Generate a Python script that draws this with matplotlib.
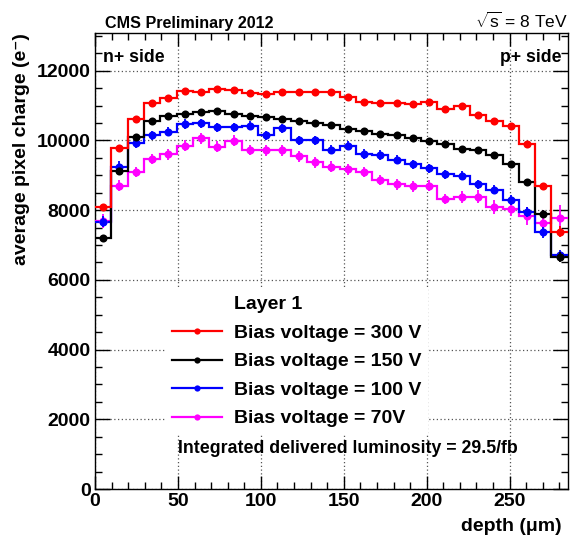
import numpy as np
import matplotlib
matplotlib.use("Agg")
import matplotlib.pyplot as plt
from matplotlib.lines import Line2D
from matplotlib.ticker import MultipleLocator

plt.rcParams["font.family"] = ["Liberation Sans", "DejaVu Sans"]
plt.rcParams["mathtext.fontset"] = "custom"
plt.rcParams["mathtext.rm"] = "Liberation Sans"
plt.rcParams["mathtext.it"] = "Liberation Sans:italic"
plt.rcParams["mathtext.bf"] = "Liberation Sans:bold"

# Depth binning (um)
depth_min, depth_max = 0.0, 285.0
n_bins = 29

# Average pixel charge (electrons) per depth bin
charge_300V = [8100, 9770, 10610, 11070, 11210, 11420, 11400, 11480, 11450, 11370,
               11320, 11400, 11400, 11400, 11400, 11230, 11110, 11085, 11065, 11040,
               11100, 10900, 11000, 10730, 10560, 10400, 9890, 8680, 7380]
err_300V = [80, 80, 80, 80, 80, 80, 80, 80, 80, 80,
            80, 80, 80, 80, 80, 80, 80, 80, 80, 80,
            80, 80, 80, 80, 80, 80, 90, 100, 150]

charge_150V = [7200, 9120, 10090, 10560, 10700, 10760, 10800, 10830, 10760, 10710,
               10660, 10610, 10560, 10510, 10445, 10330, 10270, 10190, 10160, 10060,
               9990, 9900, 9760, 9730, 9580, 9330, 8820, 7900, 6660]
err_150V = [70, 70, 70, 70, 70, 70, 70, 70, 70, 70,
            70, 70, 70, 70, 70, 70, 70, 70, 70, 70,
            70, 70, 70, 70, 70, 70, 80, 100, 150]

charge_100V = [7670, 9250, 9920, 10140, 10250, 10470, 10490, 10370, 10370, 10420,
               10140, 10350, 10000, 10000, 9730, 9850, 9610, 9580, 9440, 9320,
               9200, 9030, 8990, 8740, 8580, 8290, 7950, 7360, 6710]
err_100V = [150, 150, 130, 130, 130, 130, 130, 130, 130, 130,
            130, 130, 130, 130, 130, 130, 130, 130, 130, 130,
            130, 130, 130, 130, 130, 130, 150, 150, 150]

charge_70V = [7700, 8700, 9090, 9470, 9600, 9850, 10060, 9820, 9990, 9730,
              9710, 9710, 9540, 9370, 9250, 9170, 9090, 8870, 8740, 8680,
              8700, 8320, 8370, 8390, 8100, 8030, 7830, 7640, 7770]
err_70V = [200, 150, 150, 150, 150, 150, 150, 150, 150, 150,
           150, 150, 150, 150, 150, 150, 150, 150, 150, 150,
           150, 150, 180, 200, 200, 200, 250, 350, 380]

series_labels = ["Bias voltage = 300 V", "Bias voltage = 150 V",
                 "Bias voltage = 100 V", "Bias voltage = 70V"]
series_colors = ["#ff0000", "#000000", "#0000ff", "#ff00ff"]
series_values = [charge_300V, charge_150V, charge_100V, charge_70V]
series_errors = [err_300V, err_150V, err_100V, err_70V]

W, H = 570, 535


def fx(px):
    return px / W


def fy(py):
    return 1 - py / H


fig = plt.figure(figsize=(W / 100, H / 100), dpi=100)
ax = fig.add_axes([fx(95), fy(489), (567.7 - 95) / W, (489 - 33) / H])

edges = np.linspace(depth_min, depth_max, n_bins + 1)
centers = 0.5 * (edges[:-1] + edges[1:])

handles = []
draw_order = [3, 2, 1, 0]
for i in draw_order:
    vals = np.asarray(series_values[i], dtype=float)
    errs = np.asarray(series_errors[i], dtype=float)
    col = series_colors[i]
    ax.stairs(vals, edges, baseline=None, color=col, lw=1.6, zorder=3 + (3 - i) * 0.1)
    ax.errorbar(centers, vals, yerr=errs, fmt="o", color=col, ms=5.8, mew=0,
                elinewidth=1.3, capsize=0, zorder=4 + (3 - i) * 0.1)

for i in range(4):
    handles.append(Line2D([], [], color=series_colors[i], lw=1.6, marker="o",
                          ms=4.5, mew=0))

ax.set_xlim(depth_min, depth_max)
ax.set_ylim(0, 13080)

ax.xaxis.set_major_locator(MultipleLocator(50))
ax.xaxis.set_minor_locator(MultipleLocator(10))
ax.yaxis.set_major_locator(MultipleLocator(2000))
ax.yaxis.set_minor_locator(MultipleLocator(500))

ax.tick_params(which="both", direction="in", top=True, right=True,
               labelsize=14, width=1, pad=3)
ax.tick_params(axis="x", which="major", length=9.5)
ax.tick_params(axis="x", which="minor", length=5)
ax.tick_params(axis="y", which="major", length=10.5)
ax.tick_params(axis="y", which="minor", length=5)
for lab in ax.get_xticklabels() + ax.get_yticklabels():
    lab.set_fontweight("bold")

ax.grid(True, which="major", color="#555555", linestyle=(0, (1, 2)), lw=0.9)
ax.set_axisbelow(True)
for sp in ax.spines.values():
    sp.set_linewidth(1.0)

# Legend with a header line
header = Line2D([], [], linestyle="none", marker=None)
leg = ax.legend([header] + handles, ["Layer 1"] + series_labels,
                loc="upper left", bbox_to_anchor=(fx(165), fy(289)),
                bbox_transform=fig.transFigure, borderaxespad=0,
                frameon=True, fancybox=False, edgecolor="none",
                facecolor="white", framealpha=1,
                prop=dict(weight="bold", size=14),
                handlelength=2.6, handletextpad=0.6, borderpad=0.35,
                labelspacing=0.56)
leg.set_zorder(10)

fig.text(fx(105), fy(28), "CMS Preliminary 2012", fontsize=11.6,
         fontweight="bold", ha="left", va="baseline")
fig.text(fx(568), fy(28), r"$\sqrt{\mathrm{s}}$ = 8 TeV", fontsize=12.5,
         ha="right", va="baseline")
fig.text(fx(102.7), fy(62), "n+ side", fontsize=12.7, fontweight="bold",
         ha="left", va="baseline")
fig.text(fx(562), fy(62), "p+ side", fontsize=12.7, fontweight="bold",
         ha="right", va="baseline")
fig.text(fx(178), fy(453), "Integrated delivered luminosity = 29.5/fb",
         fontsize=12.8, fontweight="bold", ha="left", va="baseline")
fig.text(fx(22), fy(33), "average pixel charge (e\u207b)", fontsize=14,
         fontweight="bold", rotation=90, ha="center", va="top")
fig.text(fx(562), fy(531), "depth (\u03bcm)", fontsize=14,
         fontweight="bold", ha="right", va="baseline")

fig.savefig("out.png", dpi=100)
